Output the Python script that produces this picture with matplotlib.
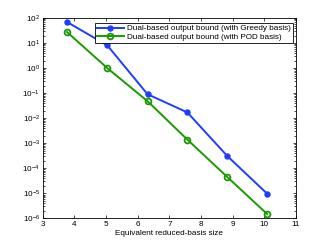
import numpy as np
import matplotlib
matplotlib.use("Agg")
import matplotlib.pyplot as plt
from matplotlib.ticker import FixedLocator, NullFormatter

# values
basis_size = [3.77, 5.04, 6.31, 7.57, 8.83, 10.09]
greedy_bound = [69.0, 8.1, 0.091, 0.017, 3.1e-4, 9.7e-6]
pod_bound = [27.5, 1.0, 0.048, 1.4e-3, 4.5e-5, 1.5e-6]
greedy_label = "Dual-based output bound (with Greedy basis)"
pod_label = "Dual-based output bound (with POD basis)"
x_label = "Equivalent reduced-basis size"

plt.rcParams["font.family"] = ["Liberation Sans", "DejaVu Sans"]
plt.rcParams["font.size"] = 5.9

fig = plt.figure(figsize=(3.27, 2.46), dpi=100)
ax = fig.add_axes([0.1306, 0.112, 0.7746, 0.8148])

ax.semilogy(basis_size, greedy_bound, "-o", color="#1f3dff", lw=1.4,
            ms=3.6, mfc="#1f3dff", mec="#1f3dff", label=greedy_label)
ax.semilogy(basis_size, pod_bound, "-o", color="#1a9a00", lw=1.4,
            ms=4.2, mfc="none", mec="#1a9a00", mew=1.3, label=pod_label)

ax.set_xlim(3, 11)
ax.set_ylim(1e-6, 1e2)
ax.xaxis.set_major_locator(FixedLocator(np.arange(3, 12)))
decades = np.arange(-6, 3)
ax.yaxis.set_major_locator(FixedLocator(10.0 ** decades))
minors = [m * 10.0 ** d for d in decades[:-1] for m in range(2, 10)]
ax.yaxis.set_minor_locator(FixedLocator(minors))
ax.yaxis.set_minor_formatter(NullFormatter())
ax.tick_params(which="both", direction="in", top=True, right=True,
               width=0.5, pad=2, labelsize=5.9)
ax.tick_params(which="major", length=2.5)
ax.tick_params(which="minor", length=1.3)
ax.tick_params(axis="x", which="minor", bottom=False, top=False)
for s in ax.spines.values():
    s.set_linewidth(0.6)

ax.set_xlabel(x_label, fontsize=5.9, labelpad=1.5)

leg = ax.legend(loc="upper right", bbox_to_anchor=(0.989, 0.977),
                borderaxespad=0, fancybox=False, framealpha=1,
                edgecolor="black", handlelength=3.4, handletextpad=0.35,
                borderpad=0.25, labelspacing=0.1, fontsize=5.9)
leg.get_frame().set_linewidth(0.6)

fig.savefig("out.png", dpi=100)
